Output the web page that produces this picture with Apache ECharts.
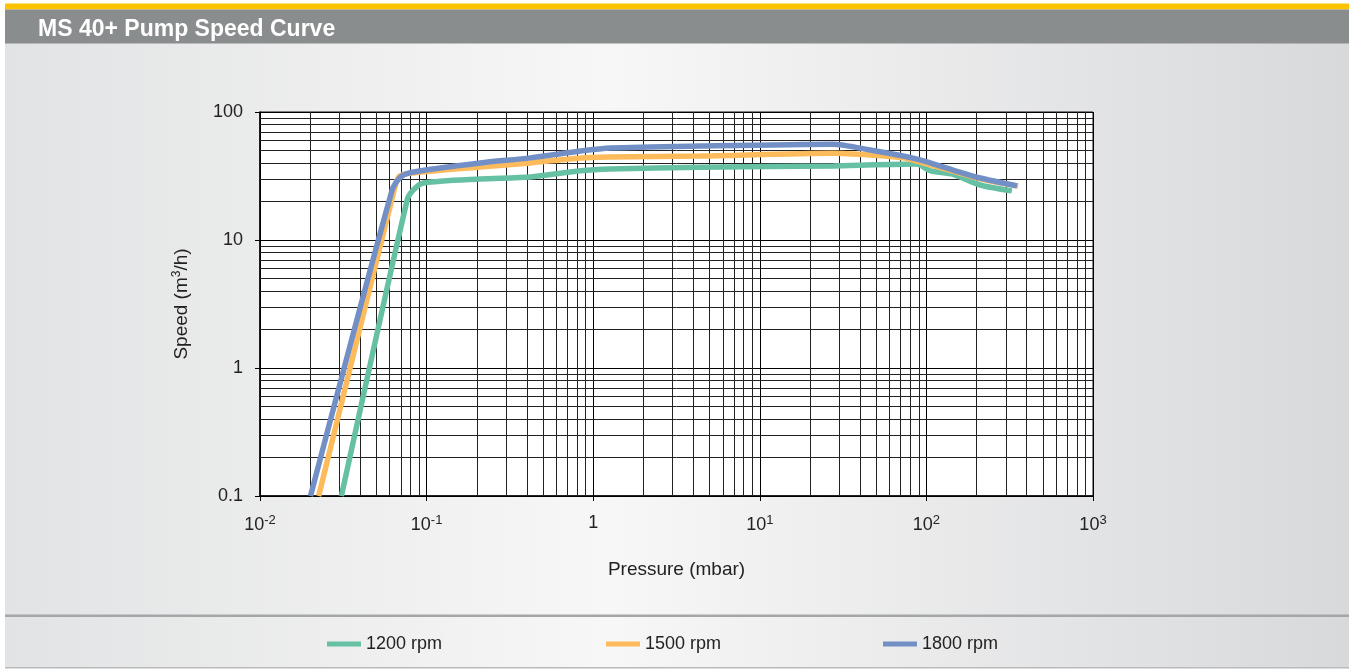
<!DOCTYPE html>
<html>
<head>
<meta charset="utf-8">
<script src="https://cdn.jsdelivr.net/npm/echarts@6/dist/echarts.min.js"></script>
<style>
html,body{margin:0;padding:0;background:#fff;}
#chart{width:1350px;height:669px;}
</style>
</head>
<body>
<div id="chart"></div>
<script>
// ---- data (pressure in mbar, speed in m3/h) ----
const seriesNames = ['1200 rpm', '1500 rpm', '1800 rpm'];
const p1200 = [0.0308, 0.0764, 0.0833, 0.0957, 0.21, 0.42, 0.84, 1.27, 4.39, 27.5, 87.9, 105, 144.5, 210, 326];
const s1200 = [0.1, 20.5, 24.6, 27.9, 30.0, 31.1, 34.8, 35.9, 37.0, 37.9, 39.2, 34.8, 32.6, 26.9, 24.2];
const p1500 = [0.0225, 0.0632, 0.0685, 0.0833, 0.21, 0.42, 0.84, 1.27, 4.39, 27.5, 45.9, 72.4, 91.6, 144.5, 210, 355];
const s1500 = [0.1, 23.3, 31.5, 33.4, 37.2, 40.0, 43.8, 44.5, 45.3, 47.6, 46.1, 43.8, 40.6, 34.6, 30.0, 26.4];
const p1800 = [0.0201, 0.0621, 0.0697, 0.0833, 0.21, 0.42, 0.84, 1.27, 4.39, 27.5, 45.9, 72.4, 91.6, 144.5, 210, 350];
const s1800 = [0.1, 24.6, 31.0, 34.0, 40.0, 43.8, 49.5, 52.3, 54.2, 56.0, 50.5, 45.3, 42.2, 35.2, 30.5, 26.5];
const xDecades = [0.01, 0.1, 1, 10, 100, 1000];
const yDecades = [0.1, 1, 10, 100];
const colors = ['#66c0a4', '#fdbb5c', '#7390c6'];

const FONT = "'Liberation Sans Narrow', 'Liberation Sans', Arial, sans-serif";

function pairs(xs, ys) { return xs.map((x, i) => [x, ys[i]]); }

// minor grid positions 2..9 within each decade
const minorX = [];
for (let d = 0; d < xDecades.length - 1; d++) for (let k = 2; k <= 9; k++) minorX.push(+(xDecades[d] * k).toPrecision(3));
const minorY = [];
for (let d = 0; d < yDecades.length - 1; d++) for (let k = 2; k <= 9; k++) minorY.push(+(yDecades[d] * k).toPrecision(3));

const gridMarks = minorX.map(v => ({ xAxis: v })).concat(minorY.map(v => ({ yAxis: v })));

const chart = echarts.init(document.getElementById('chart'), null, { renderer: 'canvas' });

const bgGrad = new echarts.graphic.LinearGradient(0, 0, 1, 0, [
  { offset: 0, color: '#e2e3e4' },
  { offset: 0.45, color: '#f7f7f7' },
  { offset: 1, color: '#d8d9db' }
]);

const option = {
  animation: false,
  textStyle: { fontFamily: FONT },
  graphic: [
    { type: 'rect', z: -10, shape: { x: 5, y: 43, width: 1344, height: 572 }, style: { fill: bgGrad } },
    { type: 'rect', z: -10, shape: { x: 5, y: 617, width: 1344, height: 50 }, style: { fill: bgGrad } },
    { type: 'rect', z: -9, shape: { x: 5, y: 614.5, width: 1344, height: 2.5 }, style: { fill: '#a4a6a8' } },
    { type: 'rect', z: -9, shape: { x: 5, y: 667, width: 1344, height: 1.5 }, style: { fill: '#b8babb' } },
    { type: 'rect', z: -9, shape: { x: 5, y: 3.5, width: 1344, height: 6 }, style: { fill: '#fdc300' } },
    { type: 'rect', z: -9, shape: { x: 5, y: 9.5, width: 1344, height: 34 }, style: { fill: '#8a8d8e' } }
  ],
  title: {
    text: 'MS 40+ Pump Speed Curve',
    left: 33, top: 13,
    textStyle: { color: '#ffffff', fontWeight: 'bold', fontSize: 23, fontFamily: "'Liberation Sans Narrow', 'Liberation Sans', sans-serif" }
  },
  legend: seriesNames.map((n, i) => ({
    data: [n],
    left: [322, 601, 878][i],
    top: 630,
    icon: 'rect',
    itemWidth: 34,
    itemHeight: 5,
    itemGap: 0,
    textStyle: { fontSize: 18, color: '#222', fontFamily: FONT }
  })),
  grid: {
    left: 260, right: 257, top: 112, bottom: 173,
    show: true, backgroundColor: '#ffffff', borderColor: '#111', borderWidth: 1
  },
  xAxis: {
    type: 'log', logBase: 10, min: 0.01, max: 1000,
    name: 'Pressure (mbar)', nameLocation: 'middle', nameGap: 64,
    nameTextStyle: { fontSize: 19, color: '#222', fontFamily: FONT },
    axisLine: { show: true, lineStyle: { color: '#000', width: 1.5 } },
    axisTick: { show: true, length: 5, lineStyle: { color: '#000' } },
    splitLine: { show: true, lineStyle: { color: '#000', width: 1 } },
    axisLabel: {
      margin: 18,
      formatter: function (v) {
        const e = Math.round(Math.log10(v));
        if (e === 0) return '{b|1}';
        return '{b|10}{s|' + e + '}';
      },
      rich: {
        b: { fontSize: 18, color: '#222', fontFamily: FONT },
        s: { fontSize: 13, color: '#222', fontFamily: FONT, padding: [0, 0, 9, 0] }
      }
    }
  },
  yAxis: {
    type: 'log', logBase: 10, min: 0.1, max: 100,
    name: '{a|Speed (m}{s|3}{a|/h)}', nameLocation: 'middle', nameGap: 68, nameRotate: 90,
    nameTextStyle: {
      rich: {
        a: { fontSize: 19, color: '#222', fontFamily: FONT },
        s: { fontSize: 12, color: '#222', fontFamily: FONT, padding: [0, 0, 9, 0] }
      }
    },
    axisLine: { show: true, lineStyle: { color: '#000', width: 1.5 } },
    axisTick: { show: true, length: 5, lineStyle: { color: '#000' } },
    splitLine: { show: true, lineStyle: { color: '#000', width: 1 } },
    axisLabel: {
      margin: 17, fontSize: 18, color: '#222', fontFamily: FONT,
      formatter: function (v) { return String(+v.toPrecision(3)); }
    }
  },
  series: [
    {
      name: 'gridlines', type: 'line', data: [[0.01, 0.1]], showSymbol: false, silent: true, z: 1,
      lineStyle: { opacity: 0 },
      markLine: {
        silent: true, symbol: 'none', label: { show: false },
        lineStyle: { color: '#222', width: 1, type: 'solid' },
        emphasis: { disabled: true },
        data: gridMarks
      }
    }
  ].concat([[p1200, s1200], [p1500, s1500], [p1800, s1800]].map((d, i) => ({
    name: seriesNames[i],
    type: 'line',
    data: pairs(d[0], d[1]),
    showSymbol: false,
    symbol: 'none',
    smooth: 0.25,
    z: 5 + i,
    color: colors[i],
    lineStyle: { color: colors[i], width: 5.5 }
  })))
};
chart.setOption(option);
</script>
</body>
</html>
